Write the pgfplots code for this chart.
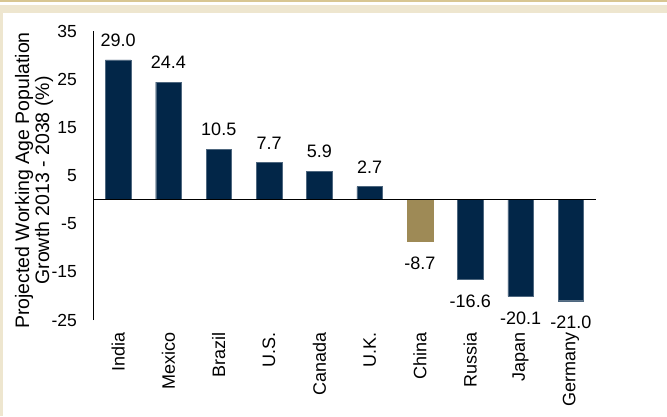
\documentclass[border=0pt]{standalone}
\usepackage{fontspec}
\setmainfont{Liberation Sans}
\usepackage{pgfplots}
\pgfplotsset{compat=1.18}
\definecolor{navy}{RGB}{2,38,72}
\definecolor{gold}{RGB}{158,138,86}
\definecolor{cream}{RGB}{238,230,207}
\definecolor{creamdark}{RGB}{216,198,146}
\begin{document}
\begin{tikzpicture}[x=1pt,y=1pt]
\fill[cream] (0,0) rectangle (667,416);
\fill[creamdark] (0,414) rectangle (667,416);
\fill[white] (0,411) rectangle (667,414);
\fill[white] (3,0) rectangle (667,403);
\path[use as bounding box] (0,0) rectangle (667,416);
\begin{axis}[
  at={(93pt,96pt)}, anchor=south west,
  scale only axis, width=503pt, height=289pt,
  xmin=-0.5, xmax=9.5, ymin=-25, ymax=35,
  axis x line*=bottom, axis y line*=left,
  x axis line style={draw=none},
  y axis line style={black, line width=0.8pt},
  major tick length=0pt,
  ytick={-25,-15,-5,5,15,25,35},
  xtick={0,...,9},
  xticklabels={India,Mexico,Brazil,U.S.,Canada,U.K.,China,Russia,Japan,Germany},
  xticklabel style={rotate=90, anchor=east, inner sep=0pt, xshift=-12pt, font=\fontsize{18}{20}\selectfont},
  yticklabel style={anchor=east, inner sep=0pt, xshift=-16pt, font=\fontsize{17.5}{20}\selectfont},
  /pgf/number format/assume math mode=true,
  ylabel={Projected Working Age Population\\Growth 2013 - 2038 (\%)},
  ylabel style={align=center, font=\fontsize{19.5}{20}\selectfont, at={(axis description cs:-0.1173,0.4827)}, anchor=center, rotate=0},
  ybar, bar width=25.5pt,
  nodes near coords={\pgfmathprintnumber[fixed,fixed zerofill,precision=1]{\pgfplotspointmeta}},
  every node near coord/.append style={font=\fontsize{18}{20}\selectfont, inner sep=0pt, text=black},
  clip=false,
]
\addplot[fill=navy, draw=navy!70!white, line width=0.4pt, bar shift=0pt,
  every node near coord/.append style={anchor=south, yshift=13pt}]
  coordinates {(0,29.0) (1,24.4) (2,10.5) (3,7.7) (4,5.9) (5,2.7)};
\addplot[fill=gold, draw=gold, line width=0.4pt, bar shift=0pt,
  every node near coord/.append style={anchor=north, yshift=-15pt}]
  coordinates {(6,-8.7)};
\addplot[fill=navy, draw=navy!70!white, line width=0.4pt, bar shift=0pt,
  every node near coord/.append style={anchor=north, yshift=-15pt}]
  coordinates {(7,-16.6) (8,-20.1) (9,-21.0)};
\draw[black, line width=0.8pt] (axis cs:-0.5,0) -- (axis cs:9.5,0);
\end{axis}
\end{tikzpicture}
\end{document}
